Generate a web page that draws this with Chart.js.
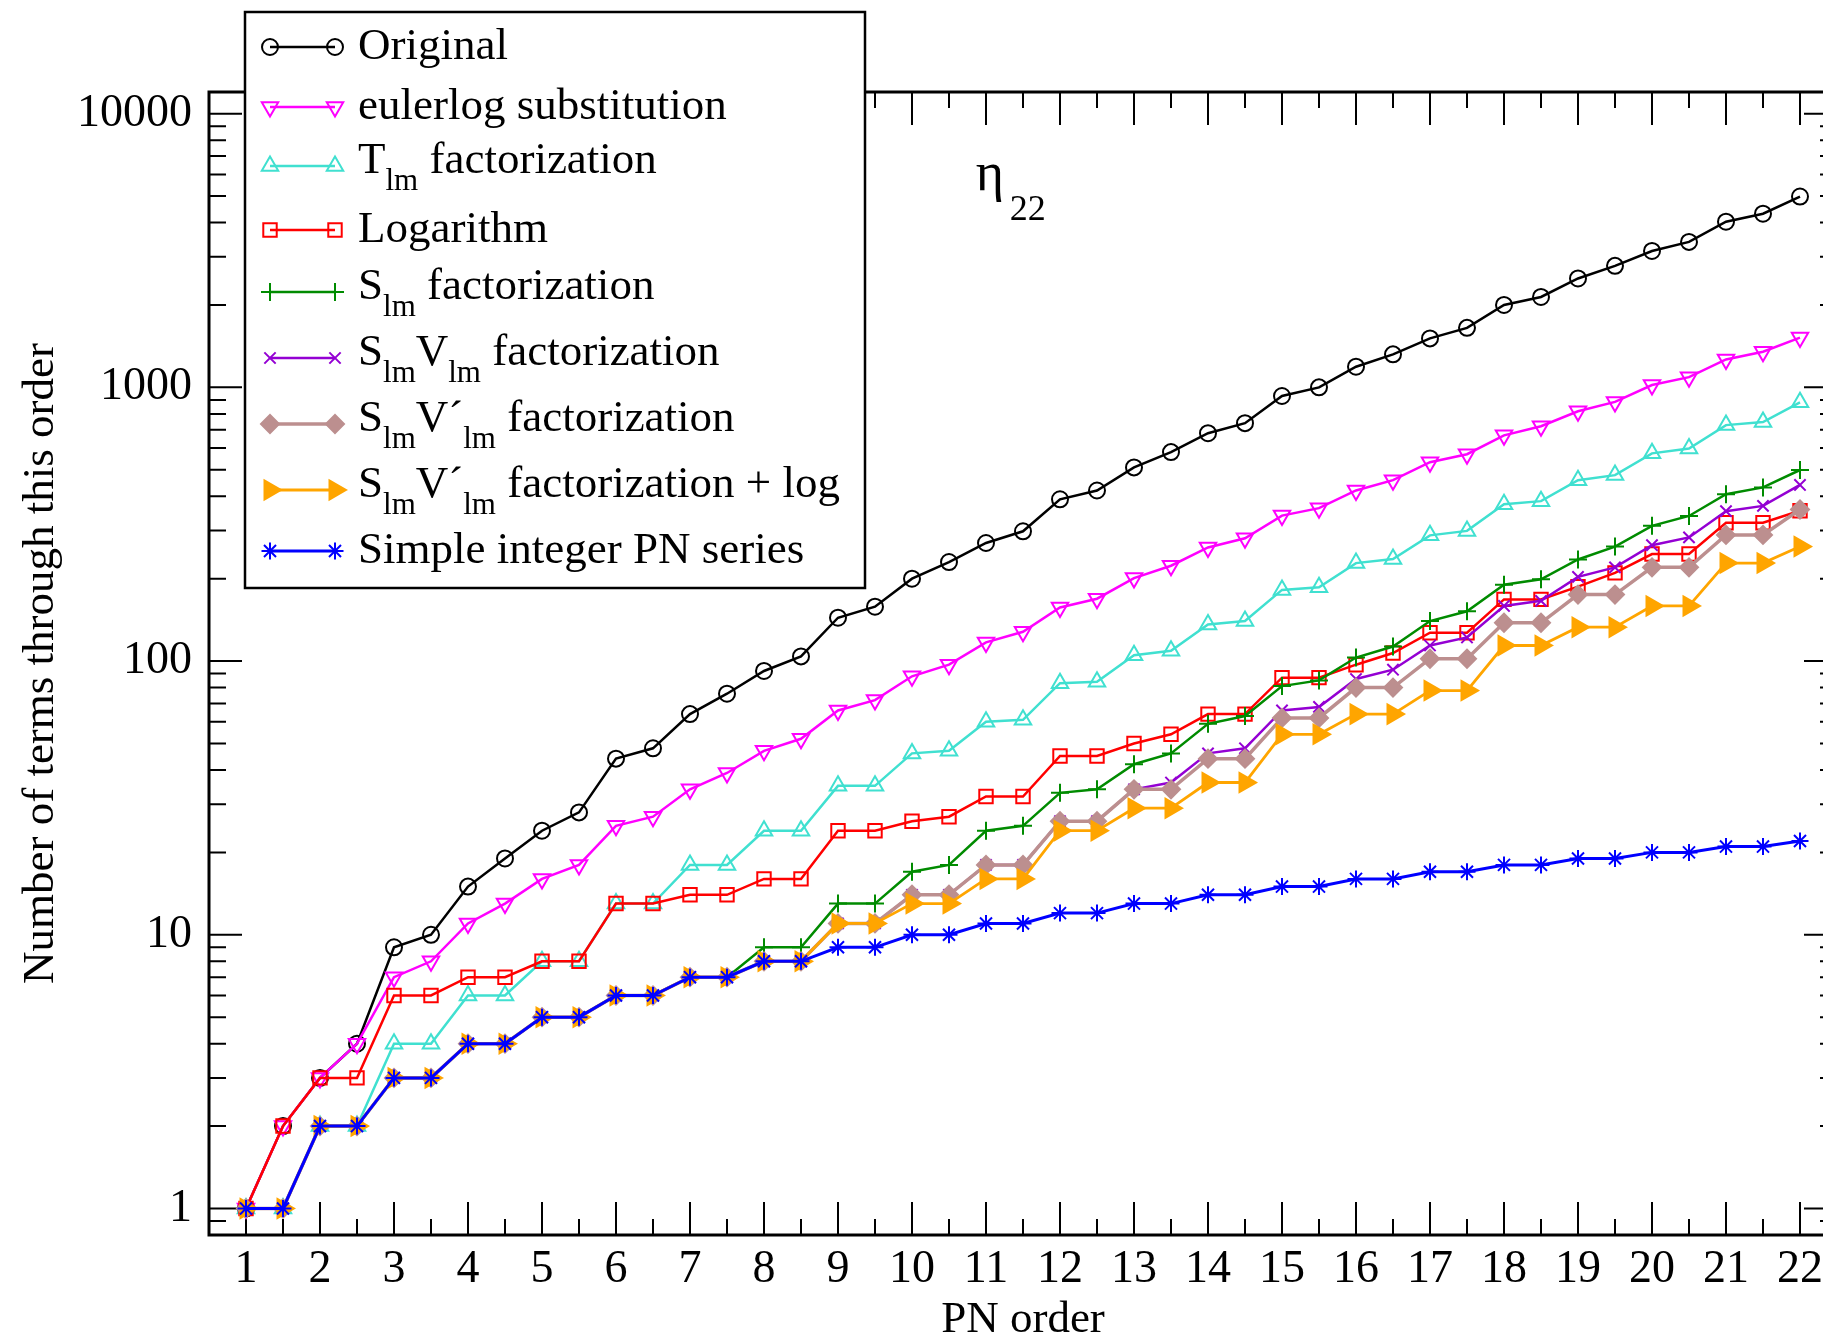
<!DOCTYPE html>
<html>
<head>
<meta charset="utf-8">
<script src="https://cdn.jsdelivr.net/npm/chart.js@4.4.1/dist/chart.umd.min.js"></script>
<style>
  html, body { margin: 0; padding: 0; background: #fff; overflow: hidden; }
  canvas { display: block; }
</style>
</head>
<body>
<canvas id="grafico" width="1850" height="1337"></canvas>
<script>
// orden PN (eje x)
const ordenPN = [1, 1.5, 2, 2.5, 3, 3.5, 4, 4.5, 5, 5.5, 6, 6.5, 7, 7.5, 8, 8.5, 9, 9.5, 10, 10.5, 11, 11.5,
                 12, 12.5, 13, 13.5, 14, 14.5, 15, 15.5, 16, 16.5, 17, 17.5, 18, 18.5, 19, 19.5, 20, 20.5, 21, 21.5, 22];
const marcasX = [1, 2, 3, 4, 5, 6, 7, 8, 9, 10, 11, 12, 13, 14, 15, 16, 17, 18, 19, 20, 21, 22];
const marcasY = [1, 10, 100, 1000, 10000];

// numero de terminos hasta cada orden
const original = [1, 2, 3, 4, 9, 10, 15, 19, 24, 28, 44, 48, 64, 76, 92, 104, 144, 158, 200, 230, 270, 298,
                  390, 420, 510, 580, 680, 740, 930, 1000, 1190, 1320, 1510, 1650, 2000, 2140, 2500, 2780, 3150, 3400, 4030, 4310, 4980];
const eulerlog = [1, 2, 3, 4, 7, 8, 11, 13, 16, 18, 25, 27, 34, 39, 47, 52, 66, 72, 88, 97, 117, 128,
                  157, 169, 201, 223, 260, 281, 340, 362, 420, 458, 533, 570, 668, 721, 818, 885, 1020, 1090, 1265, 1350, 1520];
const tlm = [1, 1, 2, 2, 4, 4, 6, 6, 8, 8, 13, 13, 18, 18, 24, 24, 35, 35, 46, 47, 60, 61,
             83, 84, 105, 109, 136, 140, 182, 186, 228, 236, 288, 299, 374, 384, 458, 478, 574, 598, 728, 747, 882];
const logaritmo = [1, 2, 3, 3, 6, 6, 7, 7, 8, 8, 13, 13, 14, 14, 16, 16, 24, 24, 26, 27, 32, 32,
                   45, 45, 50, 54, 64, 64, 87, 87, 97, 107, 127, 127, 168, 168, 187, 210, 246, 246, 320, 320, 354];
const slm = [1, 1, 2, 2, 3, 3, 4, 4, 5, 5, 6, 6, 7, 7, 9, 9, 13, 13, 17, 18, 24, 25,
             33, 34, 42, 46, 59, 63, 81, 85, 103, 113, 140, 152, 190, 199, 235, 262, 312, 339, 407, 431, 499];
const slmVlm = [1, 1, 2, 2, 3, 3, 4, 4, 5, 5, 6, 6, 7, 7, 8, 8, 11, 11, 14, 14, 18, 18,
                26, 26, 34, 36, 46, 48, 66, 68, 86, 93, 114, 122, 159, 166, 203, 220, 265, 283, 353, 369, 440];
const slmVplm = [1, 1, 2, 2, 3, 3, 4, 4, 5, 5, 6, 6, 7, 7, 8, 8, 11, 11, 14, 14, 18, 18,
                 26, 26, 34, 34, 44, 44, 62, 62, 80, 80, 102, 102, 138, 138, 175, 175, 220, 220, 289, 289, 358];
const slmVplmLog = [1, 1, 2, 2, 3, 3, 4, 4, 5, 5, 6, 6, 7, 7, 8, 8, 11, 11, 13, 13, 16, 16,
                    24, 24, 29, 29, 36, 36, 54, 54, 64, 64, 78, 78, 114, 114, 133, 133, 159, 159, 228, 228, 262];
const enteroPN = [1, 1, 2, 2, 3, 3, 4, 4, 5, 5, 6, 6, 7, 7, 8, 8, 9, 9, 10, 10, 11, 11,
                  12, 12, 13, 13, 14, 14, 15, 15, 16, 16, 17, 17, 18, 18, 19, 19, 20, 20, 21, 21, 22];

const nombres = ['Original', 'eulerlog substitution', 'T_{lm} factorization', 'Logarithm', 'S_{lm} factorization',
                 'S_{lm}V_{lm} factorization', 'S_{lm}V´_{lm} factorization', 'S_{lm}V´_{lm} factorization + log',
                 'Simple integer PN series'];
const todas = [original, eulerlog, tlm, logaritmo, slm, slmVlm, slmVplm, slmVplmLog, enteroPN];

// estilo de cada serie
const estilos = [
  {color: '#000000', punto: 'circle',   radio: 8,    rot: 0,   lleno: false, ancho: 2.5},
  {color: '#ff00ff', punto: 'triangle', radio: 9.5,  rot: 180, lleno: false, ancho: 2.5},
  {color: '#40e0d0', punto: 'triangle', radio: 9.5,  rot: 0,   lleno: false, ancho: 2.5},
  {color: '#ff0000', punto: 'rect',     radio: 9.5,  rot: 0,   lleno: false, ancho: 2.5},
  {color: '#008b00', punto: 'cross',    radio: 9,    rot: 0,   lleno: false, ancho: 2.5},
  {color: '#9400d3', punto: 'crossRot', radio: 8,    rot: 0,   lleno: false, ancho: 2.5},
  {color: '#bc8f8f', punto: 'rectRot',  radio: 9,    rot: 0,   lleno: true,  ancho: 3.5},
  {color: '#ffa500', punto: 'triangle', radio: 11,   rot: 90,  lleno: true,  ancho: 2.8},
  {color: '#0000ff', punto: 'star',     radio: 8.5,  rot: 0,   lleno: false, ancho: 3}
];

const etiquetaEta = {x: 10.86, y: 5270};
const fuente = '"Liberation Serif", "Times New Roman", serif';

function textoSub(ctx, texto, x, y, tam){
    const partes = texto.split(/(_\{[^}]*\})/);
    partes.forEach(p => {
        if(!p) return;
        if(p.startsWith('_{')){
            const s = p.slice(2, -1);
            ctx.font = `${Math.round(tam*0.7)}px ${fuente}`;
            ctx.fillText(s, x, y + 17);
            x += ctx.measureText(s).width;
        } else {
            ctx.font = `${tam}px ${fuente}`;
            ctx.fillText(p, x, y);
            x += ctx.measureText(p).width;
        }
    });
}

function marcador(ctx, e, x, y){
    ctx.fillStyle = e.lleno ? e.color : 'rgba(0,0,0,0)';
    ctx.strokeStyle = e.color;
    ctx.lineWidth = 2;
    Chart.helpers.drawPoint(ctx, {pointStyle: e.punto, radius: e.radio, rotation: e.rot, borderWidth: 2}, x, y);
}

// marco y marcas hacia adentro
const marcoEjes = {
    id: 'marcoEjes',
    beforeDatasetsDraw(chart){
        const {ctx, chartArea: a, scales: {x, y}} = chart;
        ctx.save();
        ctx.strokeStyle = '#000';
        ctx.lineWidth = 2;
        ctx.beginPath();
        ordenPN.forEach(v => {
            const px = x.getPixelForValue(v);
            const largo = Number.isInteger(v) ? 33 : 16;
            ctx.moveTo(px, a.bottom); ctx.lineTo(px, a.bottom - largo);
            ctx.moveTo(px, a.top); ctx.lineTo(px, a.top + largo);
        });
        for(let d = 0.1; d <= 10000; d *= 10){
            for(let m = 1; m <= 9; m++){
                const v = Math.round(m*d*10)/10;
                if(v < y.min || v > y.max) continue;
                const py = y.getPixelForValue(v);
                const largo = m === 1 ? 33 : 17;
                ctx.moveTo(a.left, py); ctx.lineTo(a.left + largo, py);
                ctx.moveTo(a.right, py); ctx.lineTo(a.right - largo, py);
            }
        }
        ctx.stroke();
        ctx.lineWidth = 3;
        ctx.strokeRect(a.left, a.top, a.right - a.left, a.bottom - a.top);
        ctx.restore();
    },
    afterDatasetsDraw(chart){
        const {ctx, chartArea: a, scales: {x, y}} = chart;
        ctx.save();
        // leyenda
        ctx.fillStyle = '#fff';
        ctx.fillRect(245, 12, 620, 576);
        ctx.strokeStyle = '#000';
        ctx.lineWidth = 2.5;
        ctx.strokeRect(245, 12, 620, 576);
        const filas = [47, 107, 166, 230, 292, 358, 424, 490, 551];
        nombres.forEach((n, i) => {
            const e = estilos[i];
            const fy = filas[i];
            ctx.strokeStyle = e.color;
            ctx.lineWidth = e.ancho;
            ctx.beginPath();
            ctx.moveTo(270, fy); ctx.lineTo(335, fy);
            ctx.stroke();
            marcador(ctx, e, 270, fy);
            marcador(ctx, e, 335, fy);
            ctx.fillStyle = '#000';
            ctx.textBaseline = 'alphabetic';
            ctx.textAlign = 'left';
            textoSub(ctx, n, 358, fy + (n.includes('_{') ? 6.5 : 11.5), 45);
        });
        // titulos de ejes
        ctx.fillStyle = '#000';
        ctx.font = `45px ${fuente}`;
        ctx.textAlign = 'center';
        ctx.fillText('PN order', (a.left + a.right)/2, 1332);
        ctx.translate(53, (a.top + a.bottom)/2);
        ctx.rotate(-Math.PI/2);
        ctx.fillText('Number of terms through this order', 0, 0);
        ctx.restore();

        // etiqueta eta_22
        ctx.save();
        const ex = x.getPixelForValue(etiquetaEta.x);
        const ey = y.getPixelForValue(etiquetaEta.y);
        ctx.fillStyle = '#000';
        ctx.textAlign = 'left';
        ctx.font = `54px ${fuente}`;
        ctx.fillText('η', ex, ey);
        ctx.font = `36px ${fuente}`;
        ctx.fillText('22', ex + 34, ey + 30);
        ctx.restore();
    }
};

function graficos(){
    const conjuntos = todas.map((serie, i) => {
        const e = estilos[i];
        return {
            label: nombres[i].replace(/_\{|\}/g, ''),
            data: serie.map((v, k) => ({x: ordenPN[k], y: v})),
            borderColor: e.color,
            backgroundColor: e.lleno ? e.color : 'rgba(0,0,0,0)',
            borderWidth: e.ancho,
            pointStyle: e.punto,
            pointRadius: e.radio,
            pointRotation: e.rot,
            pointBorderWidth: 2,
            pointBorderColor: e.color,
            pointBackgroundColor: e.lleno ? e.color : 'rgba(0,0,0,0)',
            tension: 0,
            order: todas.length - i
        };
    });

    const ctx = document.getElementById('grafico');
    new Chart(ctx, {
        type: 'line',
        data: {datasets: conjuntos},
        plugins: [marcoEjes],
        options: {
            responsive: false,
            animation: false,
            devicePixelRatio: 1,
            layout: {padding: {top: 92, right: 8, left: 0, bottom: 0}},
            plugins: {legend: {display: false}, tooltip: {enabled: false}},
            scales: {
                x: {
                    type: 'linear', min: 0.5, max: 22.5,
                    grid: {display: false, drawTicks: false},
                    border: {display: false},
                    afterBuildTicks: s => { s.ticks = marcasX.map(v => ({value: v})); },
                    afterFit: s => { s.height = 102; },
                    ticks: {color: '#000', padding: 7, maxRotation: 0, autoSkip: false,
                            font: {family: fuente, size: 46}, callback: v => String(v)}
                },
                y: {
                    type: 'logarithmic', min: 0.8, max: 12000,
                    grid: {display: false, drawTicks: false},
                    border: {display: false},
                    afterBuildTicks: s => { s.ticks = marcasY.map(v => ({value: v})); },
                    afterFit: s => { s.width = 209; },
                    ticks: {color: '#000', padding: 17, autoSkip: false,
                            font: {family: fuente, size: 46}, callback: v => String(v)}
                }
            }
        }
    });
}

graficos();
</script>
</body>
</html>
